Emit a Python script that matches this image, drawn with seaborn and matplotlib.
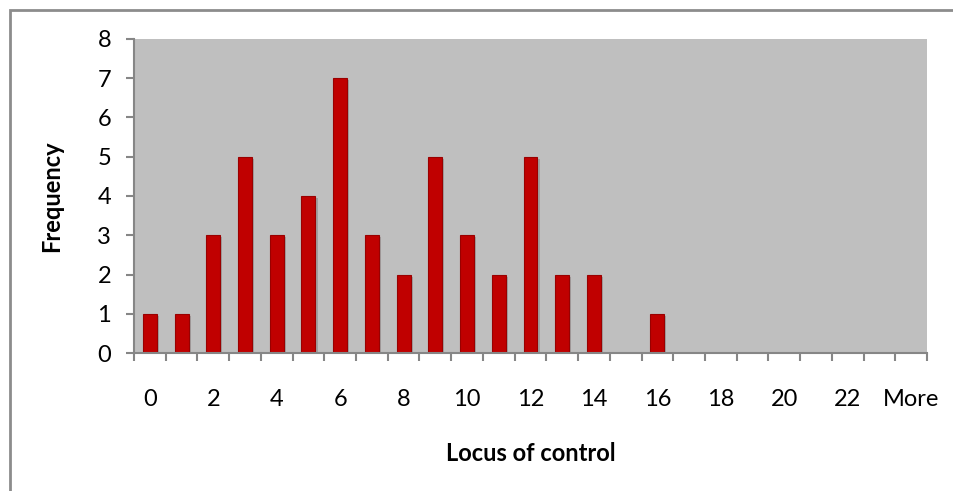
import matplotlib
matplotlib.use("Agg")
import matplotlib.pyplot as plt
import matplotlib.patheffects as pe
import seaborn as sns
import pandas as pd
from matplotlib.patches import Rectangle

# Data
bins = [str(i) for i in range(24)] + ["More"]
frequency = [1, 1, 3, 5, 3, 4, 7, 3, 2, 5, 3, 2, 5, 2, 2, 0, 1, 0, 0, 0, 0, 0, 0, 0, 0]
y_ticks = [0, 1, 2, 3, 4, 5, 6, 7, 8]

df = pd.DataFrame({"bin": bins, "freq": frequency})

sns.set_theme(style="white")
plt.rcParams["font.family"] = ["Lato", "DejaVu Sans"]

fig = plt.figure(figsize=(9.54, 4.91), dpi=100)
ax = fig.add_axes([134 / 954, 1 - 353 / 491, 793 / 954, 314 / 491])

# Outer chart border
fig.patches.append(Rectangle((10 / 954, -0.1), 1.2, (491 - 10) / 491 + 0.1,
                             transform=fig.transFigure, fill=False,
                             edgecolor="#8c8c8c", linewidth=2, zorder=0))

ax.set_facecolor("#BFBFBF")
sns.barplot(data=df, x="bin", y="freq", order=bins, color="#C00000",
            width=0.44, saturation=1, edgecolor="#9A0000", linewidth=0.8, ax=ax)
for p in ax.patches:
    p.set_path_effects([pe.SimplePatchShadow(offset=(1.5, -1.5), shadow_rgbFace="#8a8a8a", alpha=0.6),
                        pe.Normal()])

ax.set_xlim(-0.5, len(bins) - 0.5)
ax.set_ylim(0, 8)
ax.set_yticks(y_ticks)
ax.set_yticklabels([str(v) for v in y_ticks])

major_pos = list(range(0, len(bins), 2))
ax.set_xticks(major_pos)
ax.set_xticklabels([bins[i] for i in major_pos])
ax.set_xticks([i - 0.5 for i in range(len(bins) + 1)], minor=True)

for s in ["top", "right"]:
    ax.spines[s].set_visible(False)
for s in ["left", "bottom"]:
    ax.spines[s].set_color("#868686")
    ax.spines[s].set_linewidth(1.5)

fs = 17
ax.tick_params(axis="x", which="major", length=0, pad=26, labelsize=fs, colors="black")
ax.tick_params(axis="x", which="minor", length=5.5, width=1.5, color="#868686", direction="out", bottom=True)
ax.tick_params(axis="y", which="major", length=5.5, width=1.5, color="#868686", direction="out",
               left=True, pad=11, labelsize=fs, labelcolor="black")

ax.set_xlabel("Locus of control", fontsize=fs, fontweight="bold", color="black")
ax.set_ylabel("Frequency", fontsize=fs, fontweight="bold", color="black")
ax.xaxis.set_label_coords(0.5, -0.285)
ax.yaxis.set_label_coords(-0.09, 0.5)

fig.savefig("out.png", dpi=100)
